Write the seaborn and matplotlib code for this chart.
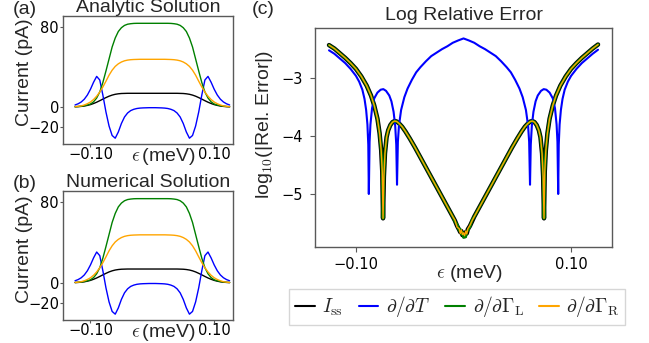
import numpy as np
import pandas as pd
import matplotlib
matplotlib.use("Agg")
import matplotlib.pyplot as plt
from matplotlib.lines import Line2D
import seaborn as sns

# ---------------- data ----------------
# panels (a)/(b): current vs detuning, eps sampled every 0.005 meV
eps_ab = np.linspace(-0.125, 0.125, 51)
I_ss = [0.2, 0.35, 0.6, 1.0, 1.6, 2.4, 3.5, 4.8, 6.3, 7.9, 9.4, 10.8, 11.9, 12.7, 13.2,
        13.5, 13.6, 13.7, 13.7, 13.7, 13.7, 13.7, 13.7, 13.7, 13.7,
        13.7,
        13.7, 13.7, 13.7, 13.7, 13.7, 13.7, 13.7, 13.7, 13.6, 13.5,
        13.2, 12.7, 11.9, 10.8, 9.4, 7.9, 6.3, 4.8, 3.5, 2.4, 1.6, 1.0, 0.6, 0.35, 0.2]
dI_dT = [2.0, 3.2, 5.0, 7.8, 12.0, 17.8, 24.8, 30.6, 27.0, 12.0, -5.0, -19.0, -28.5, -31.2,
         -25.0, -16.5, -10.0, -6.0, -3.6, -2.3, -1.5, -1.1, -0.9, -0.8, -0.7,
         -0.7,
         -0.7, -0.8, -0.9, -1.1, -1.5, -2.3, -3.6, -6.0, -10.0, -16.5, -25.0,
         -31.2, -28.5, -19.0, -5.0, 12.0, 27.0, 30.6, 24.8, 17.8, 12.0, 7.8, 5.0, 3.2, 2.0]
dI_dGL = [0.3, 0.5, 0.8, 1.3, 2.0, 3.0, 5.2, 9.0, 15.0, 24.5, 36.0, 48.0, 60.0, 69.0, 75.5,
          79.3, 81.6, 82.8, 83.3, 83.6, 83.7, 83.7, 83.7, 83.7, 83.7,
          83.7,
          83.7, 83.7, 83.7, 83.7, 83.7, 83.6, 83.3, 82.8, 81.6, 79.3,
          75.5, 69.0, 60.0, 48.0, 36.0, 24.5, 15.0, 9.0, 5.2, 3.0, 2.0, 1.3, 0.8, 0.5, 0.3]
dI_dGR = [0.3, 0.6, 1.1, 2.0, 3.3, 5.0, 7.5, 10.8, 15.0, 20.0, 25.8, 31.8, 36.8, 40.6, 43.2,
          45.0, 46.2, 46.9, 47.3, 47.5, 47.6, 47.7, 47.7, 47.7, 47.7,
          47.7,
          47.7, 47.7, 47.7, 47.7, 47.6, 47.5, 47.3, 46.9, 46.2, 45.0,
          43.2, 40.6, 36.8, 31.8, 25.8, 20.0, 15.0, 10.8, 7.5, 5.0, 3.3, 2.0, 1.1, 0.6, 0.3]
# numerical solution agrees with the analytic one to ~1e-4 relative
I_ss_num, dI_dT_num, dI_dGL_num, dI_dGR_num = I_ss, dI_dT, dI_dGL, dI_dGR

# panel (c): log10 relative error
eps_c = [-0.125, -0.120, -0.115, -0.110, -0.105, -0.100, -0.095, -0.090, -0.086, -0.083,
         -0.080, -0.078, -0.0765, -0.0755, -0.0748, -0.0740, -0.0730, -0.0715, -0.070, -0.068,
         -0.066, -0.064, -0.062, -0.060, -0.057, -0.054, -0.050, -0.045, -0.040, -0.035,
         -0.030, -0.025, -0.020, -0.015, -0.010, -0.008, -0.006, -0.004, -0.003, -0.002,
         -0.001, 0.0,
         0.001, 0.002, 0.003, 0.004, 0.006, 0.008, 0.010, 0.015, 0.020, 0.025,
         0.030, 0.035, 0.040, 0.045, 0.050, 0.054, 0.057, 0.060, 0.062, 0.064,
         0.066, 0.068, 0.070, 0.0715, 0.0730, 0.0740, 0.0748, 0.0755, 0.0765, 0.078,
         0.080, 0.083, 0.086, 0.090, 0.095, 0.100, 0.105, 0.110, 0.115, 0.120, 0.125]
err_I = [-2.43, -2.49, -2.57, -2.65, -2.74, -2.84, -2.97, -3.13, -3.30, -3.47,
         -3.70, -3.95, -4.25, -4.62, -5.42, -4.70, -4.30, -4.02, -3.90, -3.81,
         -3.76, -3.74, -3.75, -3.78, -3.84, -3.92, -4.04, -4.20, -4.37, -4.54,
         -4.71, -4.88, -5.05, -5.22, -5.39, -5.46, -5.55, -5.62, -5.66, -5.64,
         -5.71, -5.70,
         -5.73, -5.66, -5.68, -5.61, -5.55, -5.47, -5.39, -5.22, -5.05, -4.88,
         -4.71, -4.54, -4.37, -4.20, -4.04, -3.92, -3.84, -3.78, -3.75, -3.74,
         -3.76, -3.81, -3.90, -4.02, -4.30, -4.70, -5.42, -4.62, -4.25, -3.95,
         -3.70, -3.47, -3.30, -3.13, -2.97, -2.84, -2.74, -2.65, -2.57, -2.49, -2.42]
err_GL = [-2.43, -2.49, -2.57, -2.65, -2.74, -2.84, -2.97, -3.13, -3.30, -3.47,
          -3.70, -3.95, -4.25, -4.62, -5.42, -4.70, -4.30, -4.02, -3.90, -3.81,
          -3.76, -3.74, -3.75, -3.78, -3.84, -3.92, -4.04, -4.20, -4.37, -4.54,
          -4.71, -4.88, -5.05, -5.22, -5.39, -5.47, -5.53, -5.63, -5.61, -5.69,
          -5.66, -5.75,
          -5.70, -5.74, -5.64, -5.63, -5.56, -5.45, -5.39, -5.22, -5.05, -4.88,
          -4.71, -4.54, -4.37, -4.20, -4.04, -3.92, -3.84, -3.78, -3.75, -3.74,
          -3.76, -3.81, -3.90, -4.02, -4.30, -4.70, -5.42, -4.62, -4.25, -3.95,
          -3.70, -3.47, -3.30, -3.13, -2.97, -2.84, -2.74, -2.65, -2.57, -2.49, -2.42]
err_GR = [-2.43, -2.49, -2.57, -2.65, -2.74, -2.84, -2.97, -3.13, -3.30, -3.47,
          -3.70, -3.95, -4.25, -4.62, -5.42, -4.70, -4.30, -4.02, -3.90, -3.81,
          -3.76, -3.74, -3.75, -3.78, -3.84, -3.92, -4.04, -4.20, -4.37, -4.54,
          -4.71, -4.88, -5.05, -5.22, -5.39, -5.45, -5.57, -5.60, -5.68, -5.62,
          -5.70, -5.67,
          -5.72, -5.64, -5.69, -5.60, -5.54, -5.46, -5.39, -5.22, -5.05, -4.88,
          -4.71, -4.54, -4.37, -4.20, -4.04, -3.92, -3.84, -3.78, -3.75, -3.74,
          -3.76, -3.81, -3.90, -4.02, -4.30, -4.70, -5.42, -4.62, -4.25, -3.95,
          -3.70, -3.47, -3.30, -3.13, -2.97, -2.84, -2.74, -2.65, -2.57, -2.49, -2.42]

eps_cT = [-0.125, -0.120, -0.115, -0.110, -0.105, -0.100, -0.097, -0.094, -0.092, -0.0905,
          -0.0893, -0.0885, -0.0880, -0.0873, -0.0865, -0.085, -0.083, -0.080, -0.077, -0.0745,
          -0.072, -0.069, -0.067, -0.065, -0.0635, -0.0625, -0.0618, -0.0610, -0.060, -0.058,
          -0.055, -0.052, -0.048, -0.044, -0.040, -0.035, -0.030, -0.025, -0.020, -0.015,
          -0.010, -0.005, 0.0,
          0.005, 0.010, 0.015, 0.020, 0.025, 0.030, 0.035, 0.040, 0.044, 0.048,
          0.052, 0.055, 0.058, 0.060, 0.0610, 0.0618, 0.0625, 0.0635, 0.065, 0.067,
          0.069, 0.072, 0.0745, 0.077, 0.080, 0.083, 0.085, 0.0865, 0.0873, 0.0880,
          0.0885, 0.0893, 0.0905, 0.092, 0.094, 0.097, 0.100, 0.105, 0.110, 0.115, 0.120, 0.125]
err_T = [-2.52, -2.58, -2.66, -2.74, -2.84, -2.96, -3.06, -3.20, -3.36, -3.55,
         -3.80, -4.15, -5.00, -4.10, -3.80, -3.52, -3.35, -3.25, -3.20, -3.19,
         -3.22, -3.30, -3.40, -3.58, -3.82, -4.15, -4.84, -4.10, -3.82, -3.55,
         -3.33, -3.18, -3.03, -2.90, -2.81, -2.71, -2.62, -2.56, -2.50, -2.45,
         -2.39, -2.35, -2.315,
         -2.35, -2.39, -2.45, -2.50, -2.56, -2.62, -2.71, -2.81, -2.90, -3.03,
         -3.18, -3.33, -3.55, -3.82, -4.10, -4.84, -4.15, -3.82, -3.58, -3.40,
         -3.30, -3.22, -3.19, -3.20, -3.25, -3.35, -3.52, -3.80, -4.10, -5.00,
         -4.15, -3.80, -3.55, -3.36, -3.20, -3.06, -2.96, -2.84, -2.74, -2.66, -2.58, -2.51]

xtick_vals = [-0.10, 0.10]
xtick_labels = ["\u22120.10", "0.10"]
ytick_vals_ab = [-20, 0, 80]
ytick_labels_ab = ["\u221220", "0", "80"]
ytick_vals_c = [-5, -4, -3]
ytick_labels_c = ["\u22125", "\u22124", "\u22123"]
legend_labels = [r"$I_{\rm ss}$", r"$\partial/\partial T$",
                 r"$\partial/\partial \Gamma_{\rm L}$", r"$\partial/\partial \Gamma_{\rm R}$"]
colors = ["black", "blue", "green", "orange"]

# ---------------- style ----------------
sns.set_style("ticks")
plt.rcParams["font.family"] = ["Liberation Sans", "DejaVu Sans"]
plt.rcParams["mathtext.fontset"] = "cm"
plt.rcParams["axes.edgecolor"] = "0.35"
plt.rcParams["axes.linewidth"] = 1.0
plt.rcParams["xtick.color"] = "0.35"
plt.rcParams["ytick.color"] = "0.35"
plt.rcParams["xtick.labelcolor"] = "black"
plt.rcParams["ytick.labelcolor"] = "black"

fig = plt.figure(figsize=(6.49, 3.43), dpi=100)
ax_a = fig.add_axes([0.0975, 0.5802, 0.2611, 0.374])
ax_b = fig.add_axes([0.0975, 0.0671, 0.2611, 0.376])
ax_c = fig.add_axes([0.4854, 0.279, 0.4576, 0.6385])

tick_font = dict(fontsize=10.5, fontfamily="DejaVu Sans")

def current_panel(ax, series, title, ylab_y):
    for ys, c in zip(series, colors):
        sns.lineplot(x=eps_ab, y=ys, ax=ax, color=c, lw=1.0, sort=False, legend=False)
    ax.set_xlim(-0.144, 0.130)
    ax.set_ylim(-37, 91.3)
    ax.set_xticks(xtick_vals, xtick_labels, **tick_font)
    ax.set_yticks(ytick_vals_ab, ytick_labels_ab, **tick_font)
    ax.tick_params(axis="x", length=2, pad=0.5)
    ax.tick_params(axis="y", length=2, pad=1)
    ax.set_title(title, fontsize=14, pad=2)
    ax.set_xlabel(r"$\epsilon\,$(meV)", fontsize=14)
    ax.xaxis.set_label_coords(0.59, -0.012)
    ax.set_ylabel("Current (pA)", fontsize=14)
    ax.yaxis.set_label_coords(-0.18, ylab_y)

current_panel(ax_a, [I_ss, dI_dT, dI_dGL, dI_dGR], "Analytic Solution", 0.56)
current_panel(ax_b, [I_ss_num, dI_dT_num, dI_dGL_num, dI_dGR_num], "Numerical Solution", 0.55)

# panel (c)
sns.lineplot(x=eps_c, y=err_I, ax=ax_c, color="black", lw=3.2, sort=False, legend=False)
sns.lineplot(x=eps_cT, y=err_T, ax=ax_c, color="blue", lw=1.5, sort=False, legend=False)
sns.lineplot(x=eps_c, y=err_GL, ax=ax_c, color="green", lw=2.0, sort=False, legend=False)
sns.lineplot(x=eps_c, y=err_GR, ax=ax_c, color="orange", lw=1.0, sort=False, legend=False)
ax_c.set_xlim(-0.138, 0.138)
ax_c.set_ylim(-5.92, -2.14)
ax_c.set_xticks(xtick_vals, xtick_labels, **tick_font)
ax_c.set_yticks(ytick_vals_c, ytick_labels_c, **tick_font)
ax_c.tick_params(axis="y", pad=5)
ax_c.set_title("Log Relative Error", fontsize=14)
ax_c.set_xlabel(r"$\epsilon$ (meV)", fontsize=14)
ax_c.xaxis.set_label_coords(0.52, -0.073)
ax_c.set_ylabel(r"log$_{10}$(|Rel. Error|)", fontsize=14)
ax_c.yaxis.set_label_coords(-0.135, 0.56)

handles = [Line2D([], [], color=c, lw=1.5) for c in colors]
fig.legend(handles, legend_labels, loc="center", bbox_to_anchor=(0.7047, 0.105),
           ncol=4, fontsize=14, handlelength=1.0, handletextpad=0.4,
           columnspacing=0.8, borderpad=0.3, frameon=True, edgecolor="0.8",
           fancybox=False)

fig.text(0.02, 0.997, "(a)", fontsize=14, va="top")
fig.text(0.02, 0.489, "(b)", fontsize=14, va="top")
fig.text(0.388, 0.997, "(c)", fontsize=14, va="top")

for arr in (I_ss, dI_dT, dI_dGL, dI_dGR):
    assert len(arr) == len(eps_ab)
for arr in (err_I, err_GL, err_GR):
    assert len(arr) == len(eps_c)
assert len(err_T) == len(eps_cT)

fig.savefig("out.png", dpi=100)
